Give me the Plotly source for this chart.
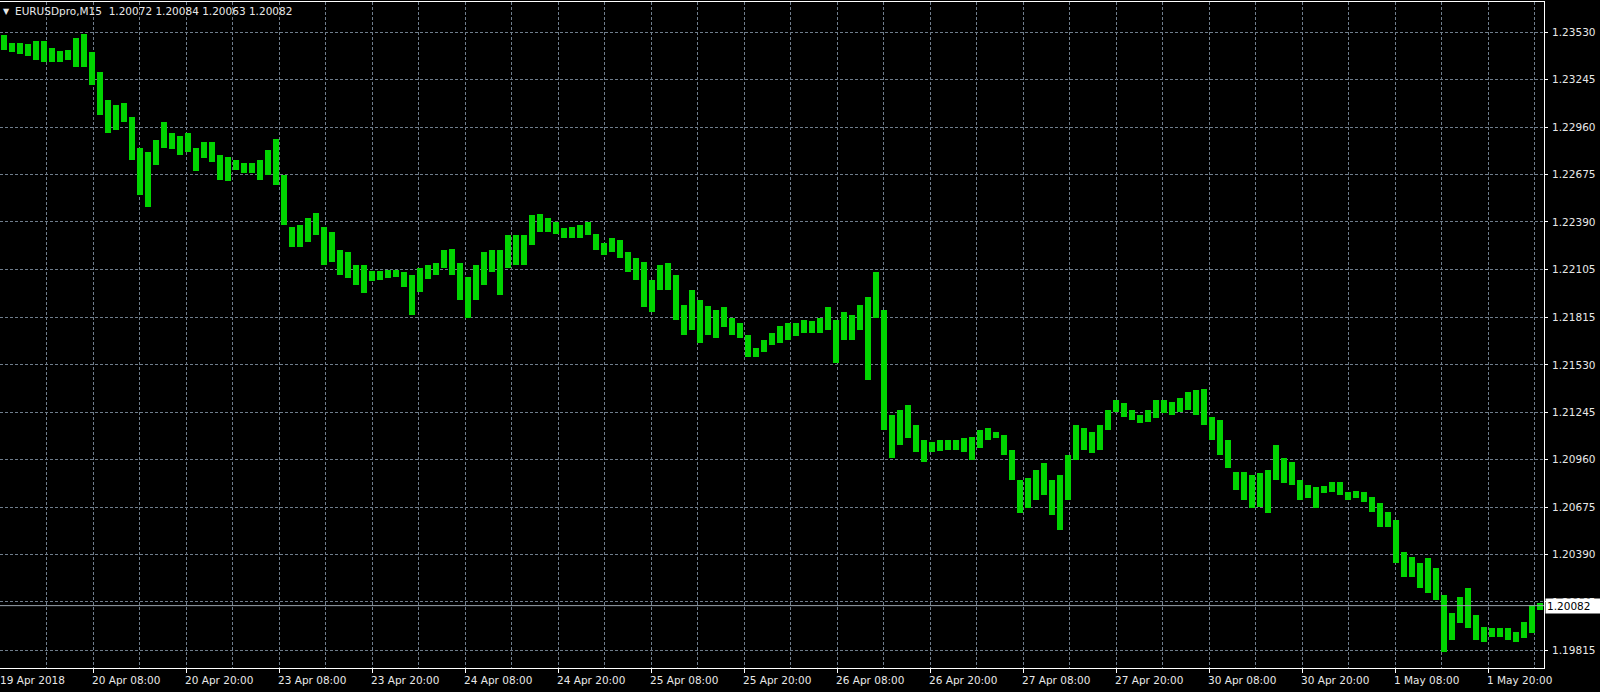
import numpy as np
import plotly.graph_objects as go

symbol = "EURUSDpro,M15"
last_ohlc = ["1.20072", "1.20084", "1.20063", "1.20082"]
last_price = 1.20082

# High / low of the M15 bars, sampled left to right (about one hour of bars per sample)
high = [
    1.23513, 1.23465, 1.23465, 1.23459, 1.23477, 1.23477, 1.23435, 1.23417, 1.23423, 1.23496,
    1.23520, 1.23411, 1.23291, 1.23123, 1.23093, 1.23105, 1.23020, 1.22834, 1.22810, 1.22882,
    1.22990, 1.22924, 1.22906, 1.22924, 1.22834, 1.22870, 1.22870, 1.22792, 1.22780, 1.22762,
    1.22744, 1.22744, 1.22762, 1.22822, 1.22888, 1.22672, 1.22360, 1.22372, 1.22413, 1.22444,
    1.22360, 1.22329, 1.22221, 1.22209, 1.22130, 1.22130, 1.22094, 1.22094, 1.22100, 1.22100,
    1.22088, 1.22070, 1.22112, 1.22130, 1.22142, 1.22221, 1.22227, 1.22142, 1.22058, 1.22130,
    1.22209, 1.22221, 1.22221, 1.22311, 1.22311, 1.22311, 1.22431, 1.22437, 1.22413, 1.22391,
    1.22353, 1.22359, 1.22372, 1.22391, 1.22317, 1.22263, 1.22293, 1.22281, 1.22209, 1.22172,
    1.22148, 1.22040, 1.22130, 1.22142, 1.22070, 1.21891, 1.21980, 1.21920, 1.21884, 1.21860,
    1.21878, 1.21812, 1.21782, 1.21709, 1.21631, 1.21680, 1.21721, 1.21763, 1.21782, 1.21782,
    1.21799, 1.21793, 1.21812, 1.21878, 1.21799, 1.21848, 1.21830, 1.21891, 1.21938, 1.22088,
    1.21860, 1.21228, 1.21258, 1.21288, 1.21168, 1.21078, 1.21066, 1.21078, 1.21078, 1.21078,
    1.21090, 1.21096, 1.21138, 1.21150, 1.21126, 1.21108, 1.21018, 1.20837, 1.20849, 1.20897,
    1.20940, 1.20837, 1.20867, 1.20988, 1.21168, 1.21150, 1.21126, 1.21168, 1.21258, 1.21318,
    1.21300, 1.21258, 1.21228, 1.21258, 1.21318, 1.21318, 1.21306, 1.21330, 1.21366, 1.21378,
    1.21384, 1.21216, 1.21198, 1.21078, 1.20885, 1.20885, 1.20867, 1.20879, 1.20897, 1.21048,
    1.20970, 1.20946, 1.20837, 1.20807, 1.20795, 1.20801, 1.20825, 1.20825, 1.20765, 1.20771,
    1.20765, 1.20735, 1.20699, 1.20645, 1.20597, 1.20404, 1.20374, 1.20338, 1.20368, 1.20308,
    1.20146, 1.20037, 1.20134, 1.20188, 1.20025, 1.19953, 1.19947, 1.19947, 1.19947, 1.19923,
    1.19983, 1.20085, 1.20097,
]
low = [
    1.23423, 1.23411, 1.23399, 1.23387, 1.23363, 1.23351, 1.23351, 1.23351, 1.23363, 1.23321,
    1.23321, 1.23213, 1.23032, 1.22924, 1.22942, 1.22990, 1.22762, 1.22551, 1.22479, 1.22732,
    1.22834, 1.22828, 1.22792, 1.22810, 1.22696, 1.22774, 1.22750, 1.22642, 1.22636, 1.22702,
    1.22684, 1.22684, 1.22642, 1.22672, 1.22612, 1.22372, 1.22239, 1.22239, 1.22269, 1.22311,
    1.22130, 1.22148, 1.22070, 1.22052, 1.22010, 1.21962, 1.22034, 1.22040, 1.22052, 1.22058,
    1.21998, 1.21830, 1.21968, 1.22046, 1.22070, 1.22112, 1.22070, 1.21920, 1.21812, 1.21920,
    1.22010, 1.22088, 1.21950, 1.22112, 1.22130, 1.22130, 1.22251, 1.22329, 1.22329, 1.22317,
    1.22293, 1.22293, 1.22293, 1.22311, 1.22221, 1.22191, 1.22209, 1.22172, 1.22088, 1.22040,
    1.21877, 1.21848, 1.21980, 1.21980, 1.21799, 1.21709, 1.21739, 1.21661, 1.21709, 1.21691,
    1.21757, 1.21709, 1.21691, 1.21577, 1.21577, 1.21607, 1.21649, 1.21661, 1.21679, 1.21703,
    1.21721, 1.21721, 1.21721, 1.21739, 1.21541, 1.21679, 1.21679, 1.21739, 1.21439, 1.21812,
    1.21138, 1.20970, 1.21048, 1.21090, 1.21006, 1.20946, 1.21006, 1.21012, 1.21018, 1.21018,
    1.21006, 1.20958, 1.21030, 1.21078, 1.21090, 1.20988, 1.20837, 1.20639, 1.20669, 1.20717,
    1.20747, 1.20627, 1.20537, 1.20717, 1.20958, 1.21018, 1.21000, 1.21018, 1.21138, 1.21246,
    1.21216, 1.21198, 1.21180, 1.21186, 1.21210, 1.21240, 1.21228, 1.21246, 1.21258, 1.21228,
    1.21168, 1.21078, 1.20988, 1.20909, 1.20777, 1.20717, 1.20669, 1.20675, 1.20639, 1.20837,
    1.20819, 1.20807, 1.20717, 1.20729, 1.20669, 1.20759, 1.20765, 1.20747, 1.20717, 1.20729,
    1.20705, 1.20645, 1.20555, 1.20555, 1.20338, 1.20254, 1.20254, 1.20188, 1.20158, 1.20116,
    1.19803, 1.19875, 1.19977, 1.19946, 1.19875, 1.19863, 1.19893, 1.19893, 1.19875, 1.19863,
    1.19887, 1.19917, 1.20055,
]

price_labels = ["1.23530", "1.23245", "1.22960", "1.22675", "1.22390", "1.22105", "1.21815",
                "1.21530", "1.21245", "1.20960", "1.20675", "1.20390", "1.20105", "1.19815"]
first_date_label = "19 Apr 2018"
date_labels = ["20 Apr 08:00", "20 Apr 20:00", "23 Apr 08:00", "23 Apr 20:00", "24 Apr 08:00",
               "24 Apr 20:00", "25 Apr 08:00", "25 Apr 20:00", "26 Apr 08:00", "26 Apr 20:00",
               "27 Apr 08:00", "27 Apr 20:00", "30 Apr 08:00", "30 Apr 20:00", "1 May 08:00",
               "1 May 20:00"]

# time axis in trading hours since 19 Apr 20:00
hours_per_sample = 8 / 7.75
n = len(high)
x_hours = (np.arange(n) + 0.5) * hours_per_sample
x_end = 1544 / 7.75
date_hours = [12 * (k + 1) for k in range(len(date_labels))]
grid_hours = list(range(6, int(x_end) + 1, 6))

hi = np.array(high)
lo = np.array(low)

GREEN = "#00d400"
GRID = "#6f7d8c"
FG = "#e8e8e8"
FONT = "DejaVu Sans"
FS = 10.5

fig = go.Figure()
fig.add_trace(go.Bar(
    x=x_hours, y=hi - lo, base=lo, width=0.8,
    marker=dict(color=GREEN, line=dict(width=0)),
    hoverinfo="skip",
))

fig.add_shape(type="line", xref="paper", x0=0, x1=1, yref="y", y0=last_price, y1=last_price,
              line=dict(color="#9aa4ae", width=1), layer="above")

fig.update_layout(
    width=1600, height=692,
    paper_bgcolor="black", plot_bgcolor="black",
    margin=dict(l=0, r=56, t=2, b=24, autoexpand=False),
    showlegend=False,
    bargap=0,
    xaxis=dict(
        range=[0, x_end], tickmode="array", tickvals=grid_hours,
        showticklabels=False, ticks="", automargin=False,
        showgrid=True, gridcolor=GRID, griddash="3px,2px", gridwidth=1,
        showline=True, linecolor="white", linewidth=1, mirror=True,
        zeroline=False, fixedrange=True,
        minor=dict(tickmode="array", tickvals=date_hours, ticks="outside", ticklen=4,
                   tickcolor="white", showgrid=False),
    ),
    yaxis=dict(
        range=[1.19707, 1.23712], side="right", automargin=False,
        tickmode="array", tickvals=[float(v) for v in price_labels], ticktext=price_labels,
        ticks="outside", ticklen=3, tickcolor="white", ticklabelstandoff=2,
        tickfont=dict(family=FONT, size=FS, color=FG),
        showgrid=True, gridcolor=GRID, griddash="3px,2px", gridwidth=1,
        showline=True, linecolor="white", linewidth=1, mirror=False,
        zeroline=False, fixedrange=True,
    ),
)

annotations = []
annotations.append(dict(text=first_date_label, xref="x", x=0, yref="paper", y=0,
                        xanchor="left", yanchor="top", yshift=-4, xshift=-2, showarrow=False,
                        font=dict(family=FONT, size=FS, color=FG)))
for h, lab in zip(date_hours, date_labels):
    annotations.append(dict(text=lab, xref="x", x=h, yref="paper", y=0,
                            xanchor="left", yanchor="top", yshift=-4, xshift=-3, showarrow=False,
                            font=dict(family=FONT, size=FS, color=FG)))
annotations.append(dict(text="▼", xref="paper", x=0, yref="paper", y=1, xanchor="left",
                        yanchor="top", xshift=1, yshift=-3, showarrow=False,
                        font=dict(family=FONT, size=8, color=FG)))
annotations.append(dict(text=symbol + "  " + " ".join(last_ohlc), xref="paper", x=0, yref="paper",
                        y=1, xanchor="left", yanchor="top", xshift=13, yshift=-1, showarrow=False,
                        font=dict(family=FONT, size=FS, color=FG)))
annotations.append(dict(text=f"{last_price:.5f}", xref="paper", x=1, yref="y", y=last_price,
                        xanchor="left", yanchor="middle", xshift=1, showarrow=False,
                        bgcolor="white", borderpad=1, width=52, align="left",
                        font=dict(family=FONT, size=FS, color="black")))
fig.update_layout(annotations=annotations)

fig.write_html("out.html", config={"displayModeBar": False, "staticPlot": True},
               post_script="document.body.style.margin='0';document.body.style.overflow='hidden';")
